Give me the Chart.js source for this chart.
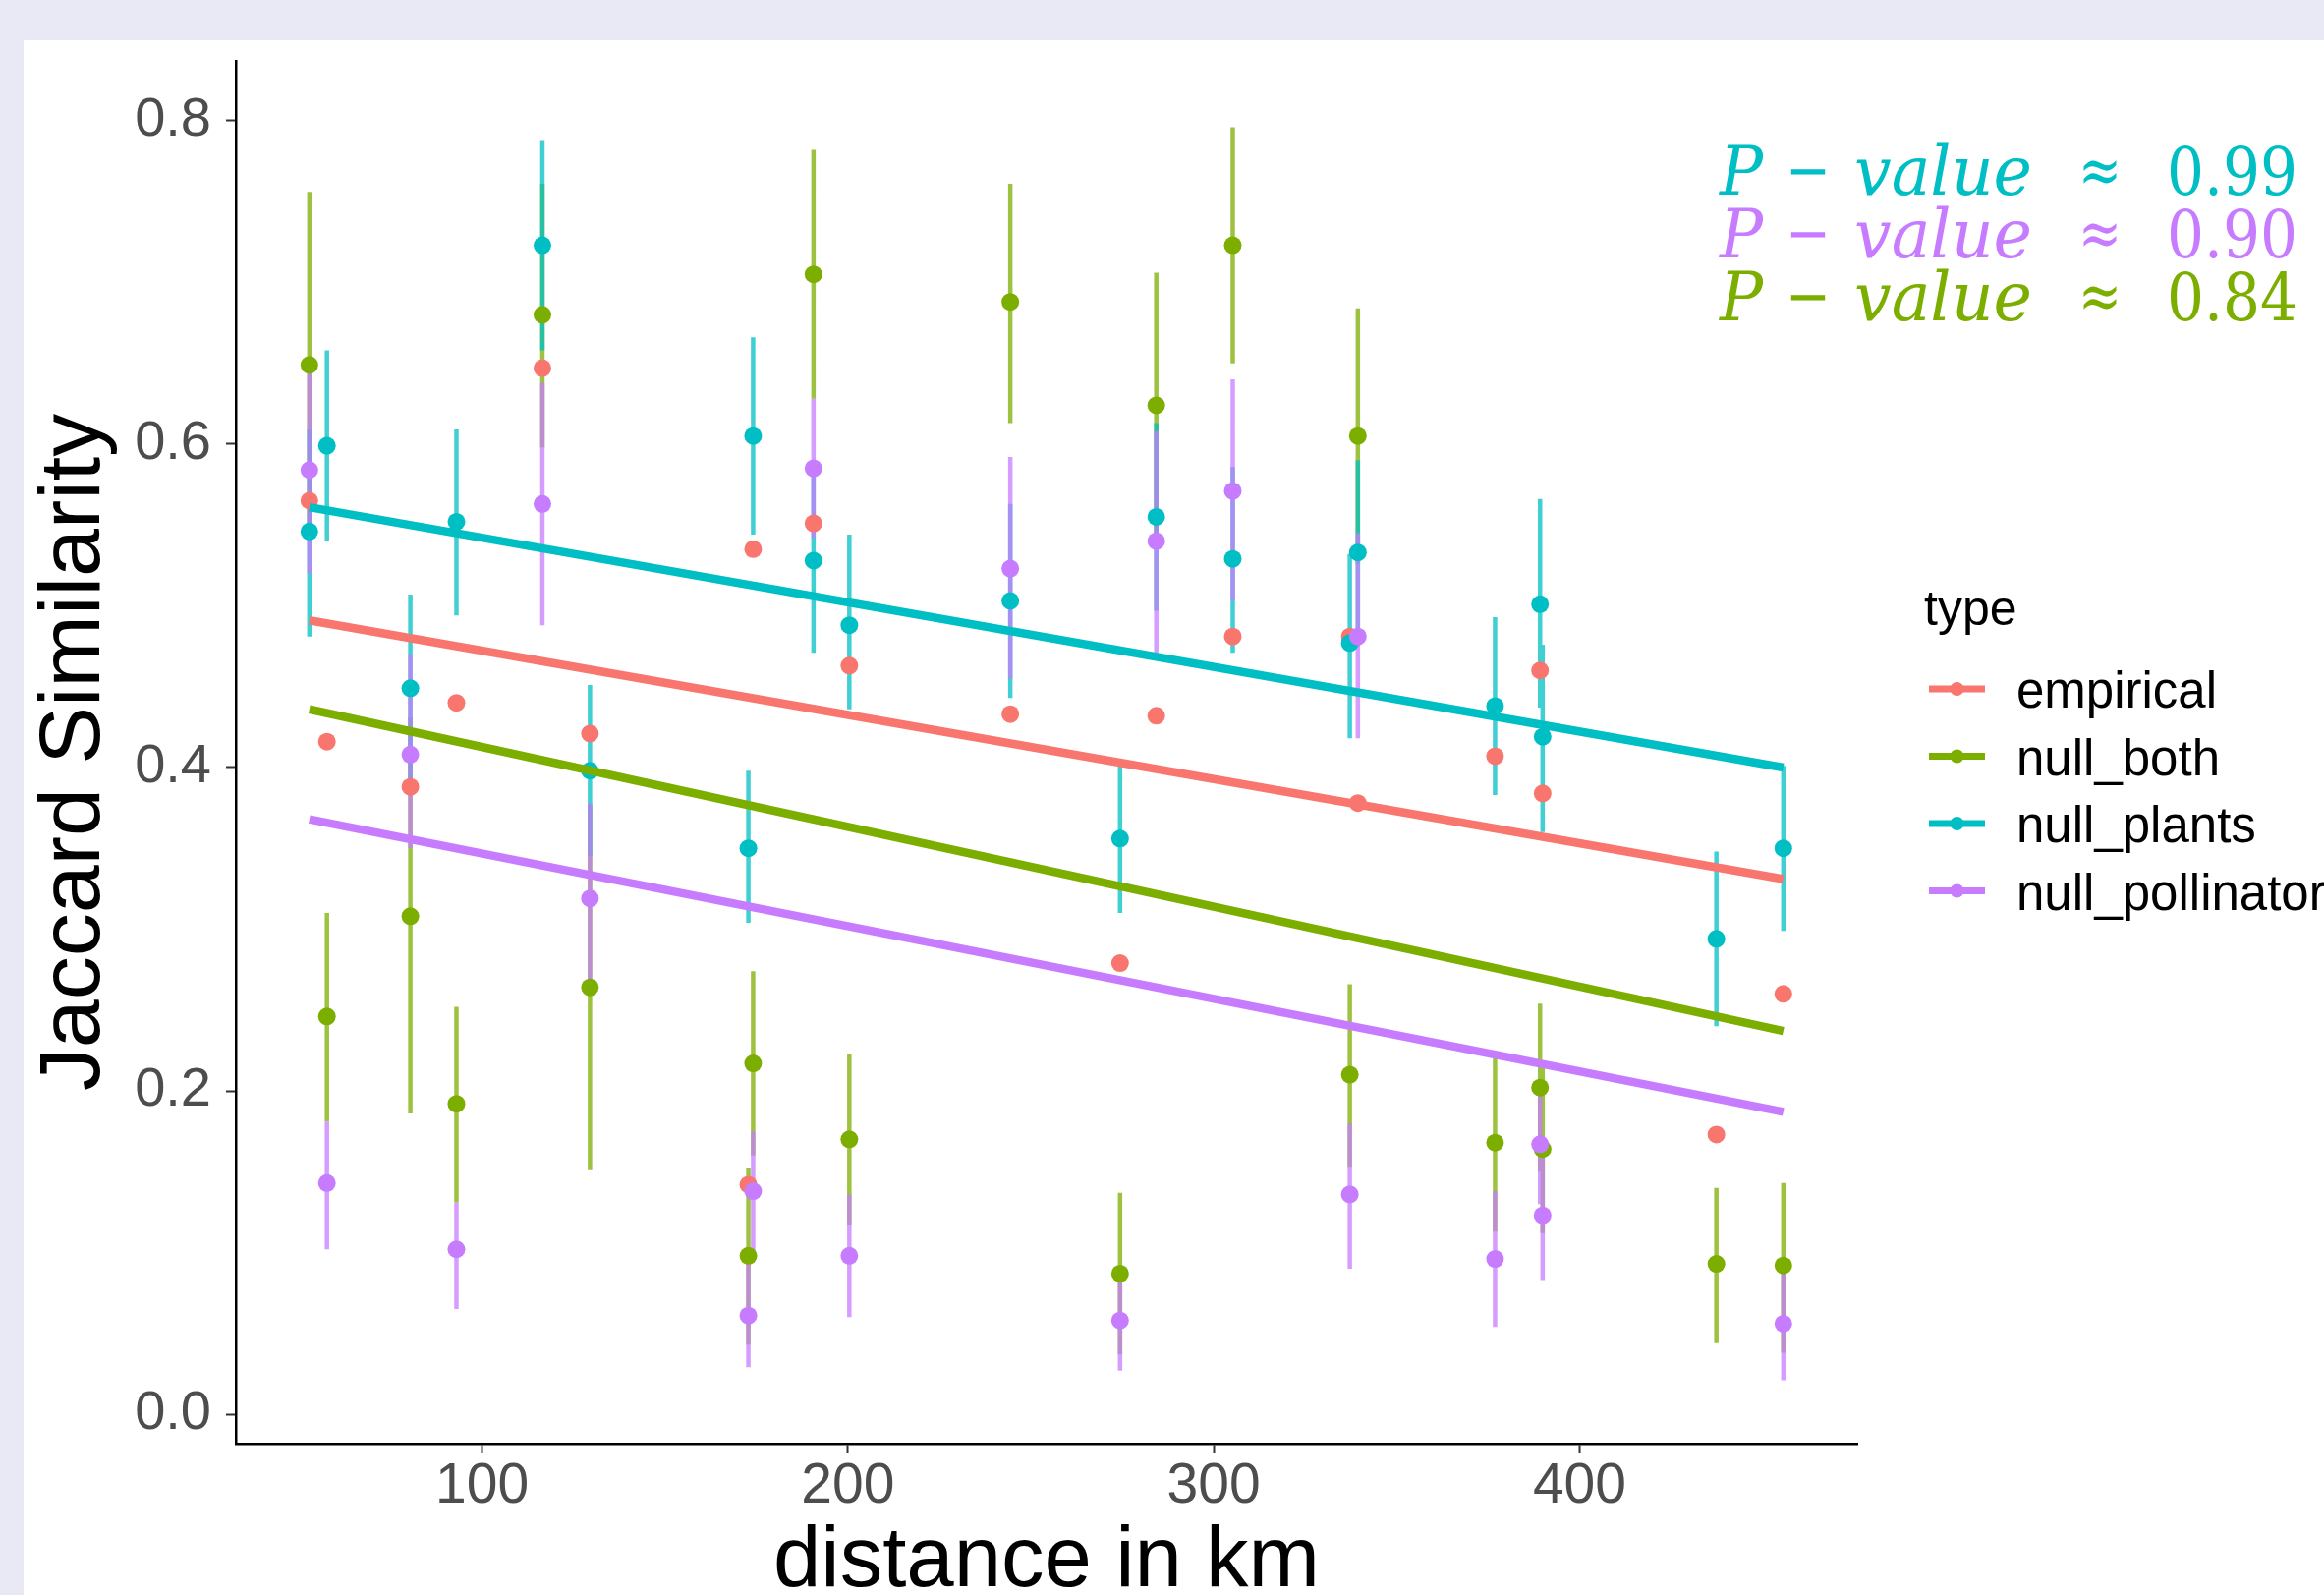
<!DOCTYPE html>
<html>
<head>
<meta charset="utf-8">
<title>Jaccard similarity vs distance</title>
<script src="https://cdn.jsdelivr.net/npm/chart.js@4.4.1/dist/chart.umd.min.js"></script>
<style>
  html, body { margin: 0; padding: 0; overflow: hidden; background: #e8e9f5; }
  #wrap { position: absolute; left: 0; top: 0; width: 2365px; height: 1623px; }
  canvas { display: block; }
</style>
</head>
<body>
<div id="wrap"><canvas id="jaccard" width="2365" height="1623" style="width:2365px;height:1623px"></canvas></div>
<script>
// ------------- data ------------- //

var distanceKm = [52.8, 57.6, 80.4, 93.0, 116.5, 129.5, 172.8, 174.1, 190.6, 200.4, 244.4,
                  274.4, 284.3, 305.2, 337.2, 339.4, 376.9, 389.2, 389.9, 437.4, 455.7]

var empirical = [0.565, 0.416, 0.388, 0.440, 0.647, 0.421, 0.142, 0.535, 0.551, 0.463, 0.433,
                 0.279, 0.432, 0.481, 0.481, 0.378, 0.407, 0.460, 0.384, 0.173, 0.260]

var nullBoth   = [0.649, 0.246, 0.308, 0.192, 0.680, 0.264, 0.098, 0.217, 0.705, 0.170, 0.688,
                  0.087, 0.624, 0.723, 0.210, 0.605, 0.168, 0.202, 0.164, 0.093, 0.092]
var nullBothLo = [0.544, 0.181, 0.186, 0.131, 0.598, 0.151, 0.043, 0.160, 0.628, 0.117, 0.613,
                  0.037, 0.541, 0.650, 0.153, 0.526, 0.113, 0.150, 0.112, 0.044, 0.038]
var nullBothHi = [0.756, 0.310, 0.431, 0.252, 0.761, 0.377, 0.152, 0.274, 0.782, 0.223, 0.761,
                  0.137, 0.706, 0.796, 0.266, 0.684, 0.220, 0.254, 0.215, 0.140, 0.143]

var nullPlants   = [0.546, 0.599, 0.449, 0.552, 0.723, 0.398, 0.350, 0.605, 0.528, 0.488, 0.503,
                    0.356, 0.555, 0.529, 0.477, 0.533, 0.438, 0.501, 0.419, 0.294, 0.350]
var nullPlantsLo = [0.481, 0.540, 0.391, 0.494, 0.658, 0.345, 0.304, 0.544, 0.471, 0.436, 0.443,
                    0.310, 0.497, 0.471, 0.418, 0.475, 0.383, 0.437, 0.360, 0.240, 0.299]
var nullPlantsHi = [0.609, 0.658, 0.507, 0.609, 0.788, 0.451, 0.398, 0.666, 0.585, 0.544, 0.563,
                    0.402, 0.613, 0.586, 0.532, 0.590, 0.493, 0.566, 0.476, 0.348, 0.401]

var nullPollinators   = [0.584, 0.143, 0.408, 0.102, 0.563, 0.319, 0.061, 0.138, 0.585, 0.098, 0.523,
                         0.058, 0.540, 0.571, 0.136, 0.481, 0.096, 0.167, 0.123, null, 0.056]
var nullPollinatorsLo = [0.520, 0.102, 0.350, 0.065, 0.488, 0.260, 0.029, 0.100, 0.542, 0.060, 0.455,
                         0.027, 0.471, 0.503, 0.090, 0.418, 0.054, 0.130, 0.083, null, 0.021]
var nullPollinatorsHi = [0.650, 0.181, 0.470, 0.131, 0.638, 0.378, 0.093, 0.175, 0.628, 0.136, 0.592,
                         0.088, 0.608, 0.640, 0.180, 0.545, 0.138, 0.200, 0.162, null, 0.091]

// fitted lm lines, value at the first and last distance
var trendStart = [0.491, 0.436, 0.561, 0.368]
var trendEnd   = [0.331, 0.237, 0.400, 0.187]

var typeNames  = ["empirical", "null_both", "null_plants", "null_pollinators"]
var typeColors = ["#F8766D", "#7CAE00", "#00BFC4", "#C77CFF"]
var barColors  = ["rgba(248,118,109,0.75)", "rgba(124,174,0,0.75)", "rgba(0,191,196,0.75)", "rgba(199,124,255,0.75)"]

var pValues = ["0.99", "0.90", "0.84"]
var pColors = ["#00BFC4", "#C77CFF", "#7CAE00"]

var xTicks = [100, 200, 300, 400]
var yTicks = [0, 0.2, 0.4, 0.6, 0.8]

// ------------- helpers ------------- //

function toPoints(values) {
    return values.map(function (v, i) { return { x: distanceKm[i], y: v } })
}

// every errorbar is a two point segment, null breaks the line between them
function barSegments(lo, hi) {
    var pts = []
    for (var i = 0; i < distanceKm.length; i++) {
        if (lo[i] == null) continue
        pts.push({ x: distanceKm[i], y: lo[i] }, { x: distanceKm[i], y: hi[i] }, { x: distanceKm[i], y: null })
    }
    return pts
}

function trendLine(k) {
    return [{ x: distanceKm[0], y: trendStart[k] }, { x: distanceKm[distanceKm.length - 1], y: trendEnd[k] }]
}

var seriesValues = [empirical, nullBoth, nullPlants, nullPollinators]
var seriesLo = [null, nullBothLo, nullPlantsLo, nullPollinatorsLo]
var seriesHi = [null, nullBothHi, nullPlantsHi, nullPollinatorsHi]

var datasets = []
for (var k = 0; k < 4; k++) {
    // lower order is drawn on top, so the last type sits highest
    datasets.push({
        type: "line", label: typeNames[k] + " fit", data: trendLine(k),
        borderColor: typeColors[k], borderWidth: 8.5, pointRadius: 0, order: 4 - k
    })
    datasets.push({
        type: "scatter", label: typeNames[k], data: toPoints(seriesValues[k]),
        backgroundColor: typeColors[k], pointRadius: 9, pointBorderWidth: 0, order: 12 - k
    })
    if (seriesLo[k]) {
        datasets.push({
            type: "line", label: typeNames[k] + " range", data: barSegments(seriesLo[k], seriesHi[k]),
            borderColor: barColors[k], borderWidth: 4.5, borderCapStyle: "butt",
            pointRadius: 0, spanGaps: false, order: 20 - k
        })
    }
}

// ------------- background, legend and p-values ------------- //

var FONT = '"Liberation Sans", Arial, sans-serif'

function drawStretched(ctx, text, x, y, width) {
    var w = ctx.measureText(text).width
    ctx.save()
    ctx.translate(x, y)
    ctx.scale(width / w, 1)
    ctx.fillText(text, 0, 0)
    ctx.restore()
}

var decorPlugin = {
    id: "decor",
    beforeDraw: function (chart) {
        var ctx = chart.ctx
        ctx.save()
        ctx.fillStyle = "#e8e9f5"
        ctx.fillRect(0, 0, chart.width, chart.height)
        ctx.fillStyle = "#ffffff"
        ctx.fillRect(24, 41, chart.width - 24, chart.height - 41)
        ctx.restore()
    },
    afterDraw: function (chart) {
        var ctx = chart.ctx
        ctx.save()

        // legend
        ctx.textBaseline = "alphabetic"
        ctx.textAlign = "left"
        ctx.fillStyle = "#000000"
        ctx.font = "50px " + FONT
        ctx.fillText("type", 1958, 636)
        ctx.font = "51px " + FONT
        for (var i = 0; i < typeNames.length; i++) {
            var cy = 701 + i * 68.5
            ctx.strokeStyle = typeColors[i]
            ctx.lineWidth = 7
            ctx.beginPath()
            ctx.moveTo(1963, cy)
            ctx.lineTo(2020, cy)
            ctx.stroke()
            ctx.fillStyle = typeColors[i]
            ctx.beginPath()
            ctx.arc(1991.5, cy, 7, 0, Math.PI * 2)
            ctx.fill()
            ctx.fillStyle = "#000000"
            ctx.fillText(typeNames[i], 2052, cy + 19)
        }

        // p-value notes
        for (var j = 0; j < pValues.length; j++) {
            var by = 197.6 + j * 64
            ctx.fillStyle = pColors[j]
            ctx.font = 'italic 70px "DejaVu Serif", serif'
            drawStretched(ctx, "P", 1750, by, 44)
            drawStretched(ctx, "value", 1887, by, 181)
            ctx.font = '67px "DejaVu Serif", serif'
            drawStretched(ctx, "\u2212", 1817, by - 2, 46)
            drawStretched(ctx, "\u2248", 2115, by - 2, 44)
            drawStretched(ctx, pValues[j], 2205, by, 133)
        }
        ctx.restore()
    }
}

// ------------- chart ------------- //

Chart.defaults.font.family = FONT

var jaccardChart = new Chart("jaccard", {
    type: "scatter",
    data: { datasets: datasets },
    plugins: [decorPlugin],
    options: {
        responsive: false,
        animation: false,
        devicePixelRatio: 1,
        events: [],
        layout: { padding: { top: 62, right: 475, bottom: 0, left: 0 } },
        plugins: { legend: { display: false }, tooltip: { enabled: false } },
        scales: {
            x: {
                type: "linear", min: 32.7, max: 475.9,
                afterBuildTicks: function (s) { s.ticks = xTicks.map(function (v) { return { value: v } }) },
                afterFit: function (s) { s.height = 154 },
                grid: { drawOnChartArea: false, drawTicks: true, tickLength: 10, tickWidth: 2, tickColor: "#333333" },
                border: { display: true, color: "#000000", width: 2.5 },
                ticks: {
                    font: { size: 57 }, color: "#4d4d4d", padding: 0, maxRotation: 0, autoSkip: false,
                    callback: function (v) { return String(v) }
                },
                title: {
                    display: true, text: "distance in km", color: "#000000",
                    font: { size: 87 }, padding: { top: 0, bottom: -19 }
                }
            },
            y: {
                type: "linear", min: -0.0182, max: 0.837,
                afterBuildTicks: function (s) { s.ticks = yTicks.map(function (v) { return { value: v } }) },
                afterFit: function (s) { s.width = 240 },
                grid: { drawOnChartArea: false, drawTicks: true, tickLength: 10, tickWidth: 2, tickColor: "#333333" },
                border: { display: true, color: "#000000", width: 2.5 },
                ticks: {
                    font: { size: 56 }, color: "#4d4d4d", padding: 15,
                    callback: function (v) { return v.toFixed(1) }
                },
                title: {
                    display: true, text: "Jaccard Similarity", color: "#000000",
                    font: { size: 88 }, padding: { top: 24, bottom: 0 }
                }
            }
        }
    }
});
</script>
</body>
</html>
